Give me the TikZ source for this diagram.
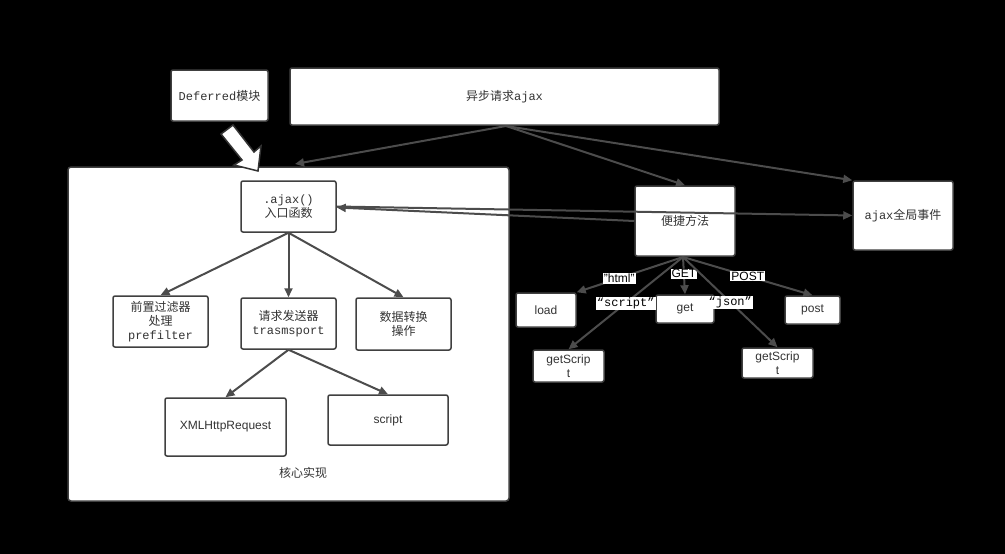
\documentclass[tikz,border=0pt]{standalone}
\usepackage{fontspec}
\setmainfont{Liberation Sans}
\setmonofont{Liberation Mono}
\newfontfamily\cjk{Noto Sans CJK SC}
\usetikzlibrary{arrows.meta}
\begin{document}
\begin{tikzpicture}[x=1pt,y=-1pt,
  box/.style={draw=black!75,line width=1.5pt,fill=white,rounded corners=2pt,inner sep=0pt,align=center,font=\fontsize{12}{14}\selectfont,text=black!80},
  edge/.style={draw=black!70,line width=2pt,-{Triangle[length=9pt,width=8pt]}},
  lab/.style={fill=white,inner sep=1pt,font=\fontsize{12}{13}\selectfont,text=black}]
\fill[black] (0,0) rectangle (1005,554);
\useasboundingbox (0,0) rectangle (1005,554);
\node[box,minimum width=441pt,minimum height=334pt,rounded corners=3pt] (core) at (288.5,334) {};
\node[text=black!80,font=\cjk\fontsize{12}{14}\selectfont] (corelab) at (303,473) {核心实现};
\node[box,minimum width=97pt,minimum height=51pt] (def) at (219.5,95.5) {\ttfamily Deferred\cjk 模块};
\node[box,minimum width=429pt,minimum height=57pt] (async) at (504.5,96.5) {\cjk 异步请求\ttfamily ajax};
\node[box,minimum width=95pt,minimum height=51pt] (entry) at (288.5,206.5) {\ttfamily .ajax()\\\cjk 入口函数};
\node[box,minimum width=95pt,minimum height=51pt] (pre) at (160.5,321.5) {\cjk 前置过滤器\\\cjk 处理\\\ttfamily prefilter};
\node[box,minimum width=95pt,minimum height=51pt] (send) at (288.5,323.5) {\cjk 请求发送器\\\ttfamily trasmsport};
\node[box,minimum width=95pt,minimum height=52pt] (conv) at (403.5,324) {\cjk 数据转换\\\cjk 操作};
\node[box,minimum width=121pt,minimum height=58pt] (xhr) at (225.5,427) {XMLHttpRequest};
\node[box,minimum width=120pt,minimum height=50pt] (scr) at (388,420) {script};
\node[box,minimum width=100pt,minimum height=70pt] (conv2) at (685,221) {\cjk 便捷方法};
\node[box,minimum width=100pt,minimum height=69pt] (glob) at (903,215.5) {\ttfamily ajax\cjk 全局事件};
\node[box,minimum width=60pt,minimum height=34pt] (load) at (546,310) {load};
\node[box,minimum width=58pt,minimum height=28pt] (get) at (685,309) {get};
\node[box,minimum width=55pt,minimum height=28pt] (post) at (812.5,310) {post};
\node[box,minimum width=71pt,minimum height=32pt] (gs1) at (568.5,366) {getScrip\\t};
\node[box,minimum width=71pt,minimum height=30pt] (gs2) at (777.5,363) {getScrip\\t};
% open arrow from Deferred
\draw[black!80,line width=1.5pt,fill=white] (221,134) -- (233,125) -- (254,152) -- (261,146) -- (258,171) -- (234,165) -- (242,160) -- cycle;
\coordinate (atop) at (506,126);
\draw[edge] (atop) -- (295,164);
\draw[edge] (atop) -- (conv2.north);
\draw[edge] (atop) -- (glob.north west);
\draw[edge] (entry.east) -- (glob.west);
\draw[edge] (conv2.west) -- ([yshift=-1pt]entry.east);
\draw[edge] (entry.south) -- (pre.north);
\draw[edge] (entry.south) -- (send.north);
\draw[edge] (entry.south) -- (conv.north);
\draw[edge] (send.south) -- (xhr.north);
\draw[edge] (send.south) -- (scr.north);
\coordinate (cb) at (683,257);
\draw[edge] (cb) -- (load.north east) node[lab,pos=0.6,sloped=false] {"html"};
\draw[edge] (cb) -- (gs1.north) node[lab,pos=0.5,font=\ttfamily\fontsize{12}{13}\selectfont] {“script”};
\draw[edge] (cb) -- (get.north) node[lab,pos=0.45] {GET};
\draw[edge] (cb) -- (gs2.north) node[lab,pos=0.5,font=\ttfamily\fontsize{12}{13}\selectfont] {“json”};
\draw[edge] (cb) -- (post.north) node[lab,pos=0.5] {POST};
\end{tikzpicture}
\end{document}
